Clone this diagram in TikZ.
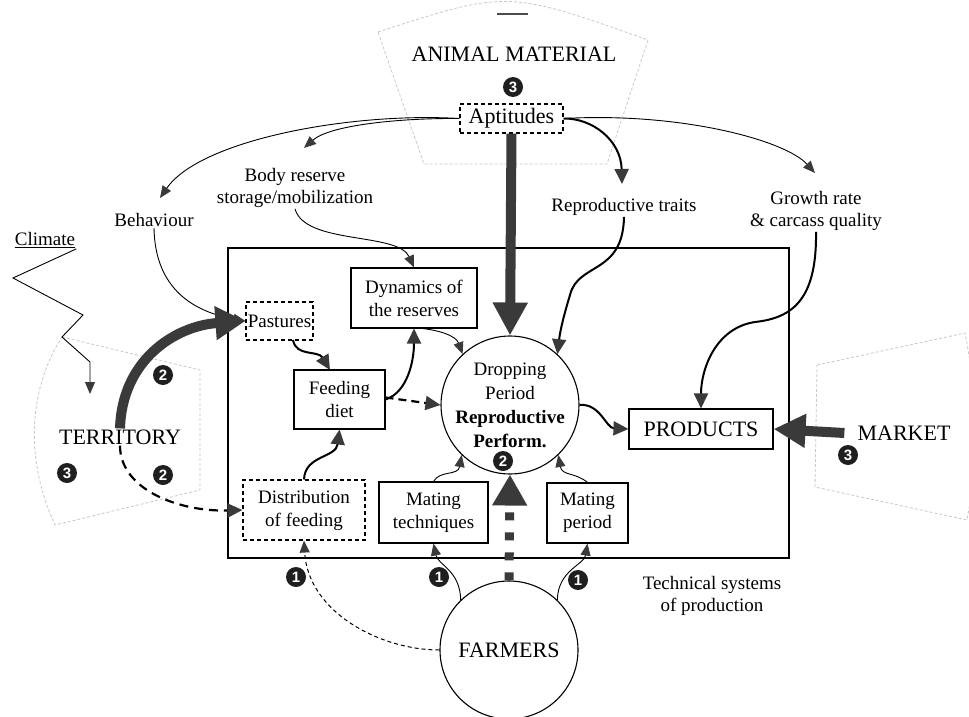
\documentclass[tikz,border=0pt]{standalone}
\usepackage{fontspec}
\setmainfont{Liberation Serif}
\newfontfamily\numfont{Liberation Sans}
\usetikzlibrary{arrows.meta,shapes.geometric}
\definecolor{tipc}{HTML}{3A3A3A}
\definecolor{fanc}{HTML}{C9C9C9}
\begin{document}
\begin{tikzpicture}[x=1pt,y=-1pt,
  lbl/.style={font=\fontsize{19}{22}\selectfont, align=center, inner sep=1pt},
  big/.style={font=\fontsize{22}{26}\selectfont, inner sep=1pt},
  box/.style={draw, line width=1.1pt, font=\fontsize{19}{23}\selectfont, align=center, inner sep=0pt},
  dbox/.style={box, dash pattern=on 4pt off 3pt},
  num/.style={circle, fill=black!88, text=white, inner sep=0pt, minimum size=20pt, font=\numfont\fontsize{15}{15}\selectfont\bfseries},
  tipthin/.style={-{Triangle[length=12pt,width=10pt,fill=tipc,color=tipc]}},
  tipmid/.style={-{Triangle[length=15pt,width=14pt,fill=tipc,color=tipc]}},
  thin/.style={line width=0.9pt, tipthin},
  mid/.style={line width=2pt, tipmid},
  fan/.style={draw=fanc, line width=0.8pt, dash pattern=on 3pt off 2pt},
]
\fill[white] (0,0) rectangle (969,717);
\useasboundingbox (0,0) rectangle (969,717);

% background fans
\draw[fan] (378,32) .. controls (507,-10) .. (648,40) -- (607,164) -- (424,164) -- cycle;
\draw[line width=1.5pt, black!70] (497,14) -- (528,14);
\draw[fan] (62,337) -- (200,370) -- (200,490) -- (55,525) .. controls (25,460) and (28,390) .. (62,337) -- cycle;
\draw[fan] (817,365) -- (965,333) .. controls (978,400) and (978,460) .. (967,520) -- (815,487) -- cycle;

% technical systems frame
\node[draw, line width=1.1pt, minimum width=561pt, minimum height=310pt, inner sep=0pt] (tsp) at (508.5,403) {};
\node[lbl] (tsl) at (712,596) {Technical systems\\of production};

% outside labels
\node[big] (anim) at (514,54) {ANIMAL MATERIAL};
\node[num] (n3a) at (513,87) {3};
\node[dbox, font=\fontsize{22}{26}\selectfont, minimum width=103pt, minimum height=29pt] (apt) at (511.5,118.5) {Aptitudes};
\node[lbl] (beh) at (154,220) {Behaviour};
\node[lbl] (body) at (295,188) {Body reserve\\storage/mobilization};
\node[lbl] (rep) at (624,207) {Reproductive traits};
\node[lbl] (gro) at (816,211) {Growth rate\\\& carcass quality};
\node[lbl] (clim) at (45,240) {\underline{Climate}};
\node[big] (terr) at (120,437) {TERRITORY};
\node[num] (n3t) at (67,473) {3};
\node[num] (n2t) at (163,375) {2};
\node[num] (n2u) at (163,475) {2};
\node[big] (mkt) at (904,433) {MARKET};
\node[num] (n3m) at (848,455) {3};

% inner boxes
\node[dbox, minimum width=67pt, minimum height=38pt] (pas) at (279.5,321) {Pastures};
\node[box, minimum width=126pt, minimum height=60pt] (dyn) at (414,298) {Dynamics of\\the reserves};
\node[box, minimum width=91pt, minimum height=59pt] (feed) at (339.5,399.5) {Feeding\\diet};
\node[dbox, minimum width=122pt, minimum height=60pt] (dist) at (304,510) {Distribution\\of feeding};
\node[box, minimum width=109pt, minimum height=61pt] (mt) at (433.5,512.5) {Mating\\techniques};
\node[box, minimum width=81pt, minimum height=60pt] (mp) at (587.5,513) {Mating\\period};
\node[box, font=\fontsize{22}{26}\selectfont, minimum width=144pt, minimum height=40pt] (prod) at (701,429) {PRODUCTS};
\node[draw, circle, line width=1.1pt, minimum size=136pt, inner sep=0pt, font=\fontsize{19}{24}\selectfont, align=center] (drop) at (510,405) {Dropping\\Period\\\textbf{Reproductive}\\\textbf{Perform.}};
\node[num] (n2d) at (503,461) {2};
\node[draw, circle, line width=1.1pt, minimum size=138pt, inner sep=0pt, font=\fontsize{22}{26}\selectfont] (farm) at (509,650) {FARMERS};
\node[num] (n1a) at (296,577) {1};
\node[num] (n1b) at (439,577) {1};
\node[num] (n1c) at (578,580) {1};

% climate zigzag
\draw[thin] (clim.south east) -- (13,278) -- (83,315) -- (62,337) -- (90,362) -- (90,394);

% arrows from aptitudes
\draw[thin] (apt.west) .. controls (350,112) and (200,140) .. (160,198);
\draw[thin] (apt.west) .. controls (400,118) and (330,125) .. (304,148);
\draw[mid] (apt.east) .. controls (592,118) and (621,140) .. (622,184);
\draw[thin] (apt.east) .. controls (680,112) and (785,140) .. (815,173);
\draw[line width=10pt, draw=tipc, -{Triangle[length=33pt,width=33pt,fill=tipc,color=tipc]}] (apt.south) -- (drop.north);

% into the frame
\draw[thin] (beh.south) .. controls (155,290) and (195,312) .. (pas.west);
\draw[thin] (body.south) .. controls (305,245) and (398,232) .. (dyn.north);
\draw[mid] (rep.south) .. controls (623,275) and (578,262) .. (570,295) .. controls (563,318) and (560,332) .. (drop.47);
\draw[mid] (gro.south) .. controls (817,300) and (792,318) .. (755,322) .. controls (715,328) and (701,370) .. (prod.north);

% territory arrows
\draw[line width=10pt, draw=tipc, -{Triangle[length=30pt,width=32pt,fill=tipc,color=tipc]}] (terr.north) .. controls (122,360) and (175,326) .. (pas.west);
\draw[line width=2.2pt, dash pattern=on 9pt off 6pt, tipmid] (terr.south) .. controls (120,490) and (180,512) .. (dist.west);

% market arrow
\draw[line width=10pt, draw=tipc, -{Triangle[length=32pt,width=32pt,fill=tipc,color=tipc]}] ([xshift=-12pt]mkt.west) -- (prod.east);

% inner connectors
\draw[mid] (293,340) .. controls (296,357) and (318,350) .. (330,370);
\draw[mid] (feed.east) .. controls (408,392) and (414,360) .. (dyn.south);
\draw[line width=2.2pt, dash pattern=on 8pt off 5pt, tipmid] ([yshift=2pt]feed.east) -- (drop.west);
\draw[thin] (418,328) .. controls (440,330) and (456,336) .. (drop.133);
\draw[mid] (dist.north) .. controls (305,455) and (336,458) .. (feed.south);
\draw[mid] (drop.east) .. controls (600,403) and (606,428) .. (prod.west);
\draw[thin] (mt.north) .. controls (440,470) and (458,476) .. (drop.226);
\draw[thin] (mp.north) .. controls (575,472) and (562,476) .. (drop.314);

% farmers connectors
\draw[line width=9pt, draw=tipc, dash pattern=on 8pt off 12pt, -{Triangle[length=31pt,width=33pt,fill=tipc,color=tipc]}] (farm.north) -- (drop.south);
\draw[thin] (farm.134) .. controls (460,570) and (438,565) .. (mt.south);
\draw[thin] (farm.46) .. controls (558,570) and (584,565) .. (mp.south);
\draw[line width=1pt, dash pattern=on 4pt off 3pt, tipthin] (farm.west) .. controls (380,650) and (308,612) .. (dist.south);
\end{tikzpicture}
\end{document}
